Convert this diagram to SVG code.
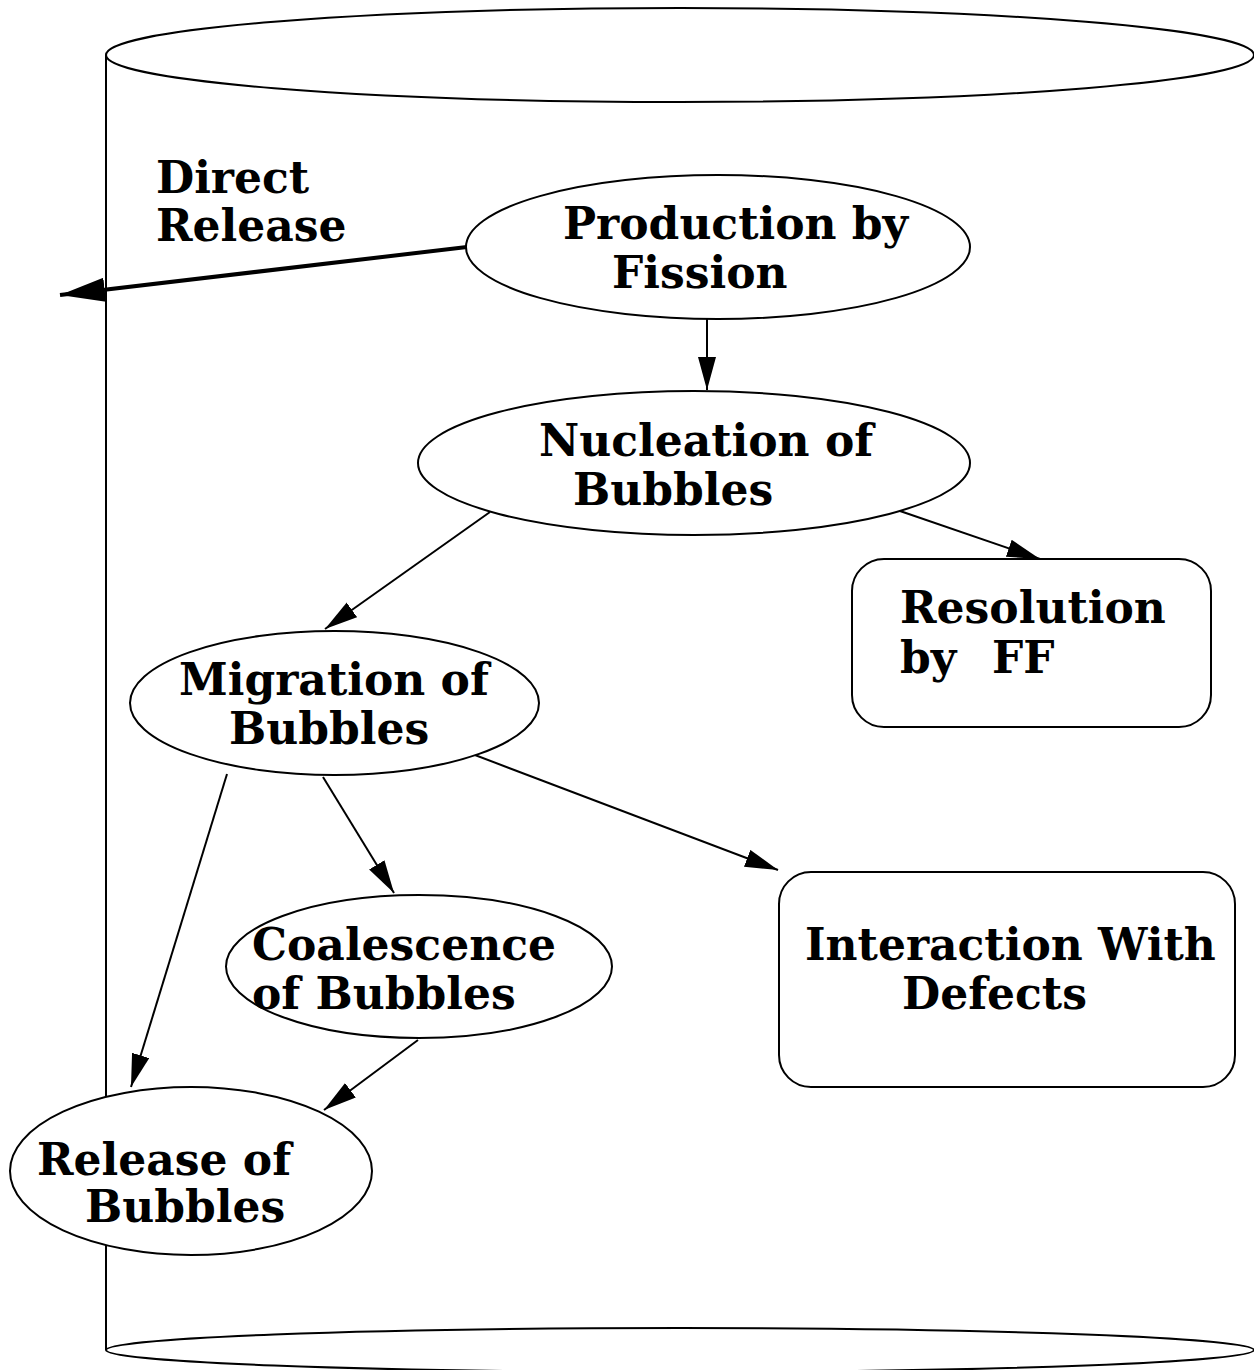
<svg xmlns="http://www.w3.org/2000/svg" width="1254" height="1370" viewBox="0 0 1254 1370">
<style>
.shape{fill:#fff;stroke:#000;stroke-width:2}
.line{fill:none;stroke:#000;stroke-width:2}
.thick{fill:none;stroke:#000;stroke-width:4}
.lbl{font-family:"DejaVu Serif","Liberation Serif",serif;font-weight:bold;font-size:44px;fill:#000}
</style>
<defs>
<marker id="ah" markerUnits="userSpaceOnUse" markerWidth="34" markerHeight="20" refX="33" refY="9" orient="auto"><path d="M0,0 L33,9 L0,18 z" fill="#000"/></marker>
<marker id="ahb" markerUnits="userSpaceOnUse" markerWidth="46" markerHeight="26" refX="45" refY="12" orient="auto"><path d="M0,0 L45,12 L0,24 z" fill="#000"/></marker>
</defs>
<g id="cylinder">
<line class="line" x1="106" y1="55" x2="106" y2="1350"/>
<ellipse class="line" cx="680" cy="55" rx="574" ry="47"/>
<ellipse class="line" cx="680" cy="1350" rx="574" ry="22"/>
</g>
<g id="direct-release-label"><text class="lbl" x="156" y="193">Direct</text><text class="lbl" x="156" y="241">Release</text></g>
<g id="connectors">
<line class="thick" x1="467" y1="247" x2="60" y2="295" marker-end="url(#ahb)"/>
<line class="line" x1="707" y1="319" x2="707" y2="390" marker-end="url(#ah)"/>
<line class="line" x1="900" y1="511" x2="1040" y2="559" marker-end="url(#ah)"/>
<line class="line" x1="490" y1="512" x2="325" y2="629" marker-end="url(#ah)"/>
<line class="line" x1="467" y1="752" x2="778" y2="870" marker-end="url(#ah)"/>
<line class="line" x1="323" y1="777" x2="394" y2="893" marker-end="url(#ah)"/>
<line class="line" x1="227" y1="774" x2="131" y2="1087" marker-end="url(#ah)"/>
<line class="line" x1="418" y1="1040" x2="324" y2="1110" marker-end="url(#ah)"/>
</g>
<g id="production"><ellipse class="shape" cx="718" cy="247" rx="252" ry="72"/><text class="lbl" x="563" y="239">Production by</text><text class="lbl" x="612" y="288">Fission</text></g>
<g id="nucleation"><ellipse class="shape" cx="694" cy="463" rx="276" ry="72"/><text class="lbl" x="539" y="456">Nucleation of</text><text class="lbl" x="573" y="505">Bubbles</text></g>
<g id="resolution"><rect class="shape" x="852" y="559" width="359" height="168" rx="32"/><text class="lbl" x="900" y="623">Resolution</text><text class="lbl" x="900" y="673">by<tspan x="992">FF</tspan></text></g>
<g id="migration"><ellipse class="shape" cx="334.5" cy="703" rx="204.5" ry="72"/><text class="lbl" x="179" y="695">Migration of</text><text class="lbl" x="229" y="744">Bubbles</text></g>
<g id="coalescence"><ellipse class="shape" cx="419" cy="966.5" rx="193" ry="71.5"/><text class="lbl" x="252" y="960">Coalescence</text><text class="lbl" x="252" y="1009">of Bubbles</text></g>
<g id="interaction"><rect class="shape" x="779" y="872" width="456" height="215" rx="32"/><text class="lbl" x="805" y="960">Interaction With</text><text class="lbl" x="902" y="1009">Defects</text></g>
<g id="release"><ellipse class="shape" cx="191" cy="1171" rx="181" ry="84"/><text class="lbl" x="37" y="1175">Release of</text><text class="lbl" x="85" y="1222">Bubbles</text></g>
</svg>
